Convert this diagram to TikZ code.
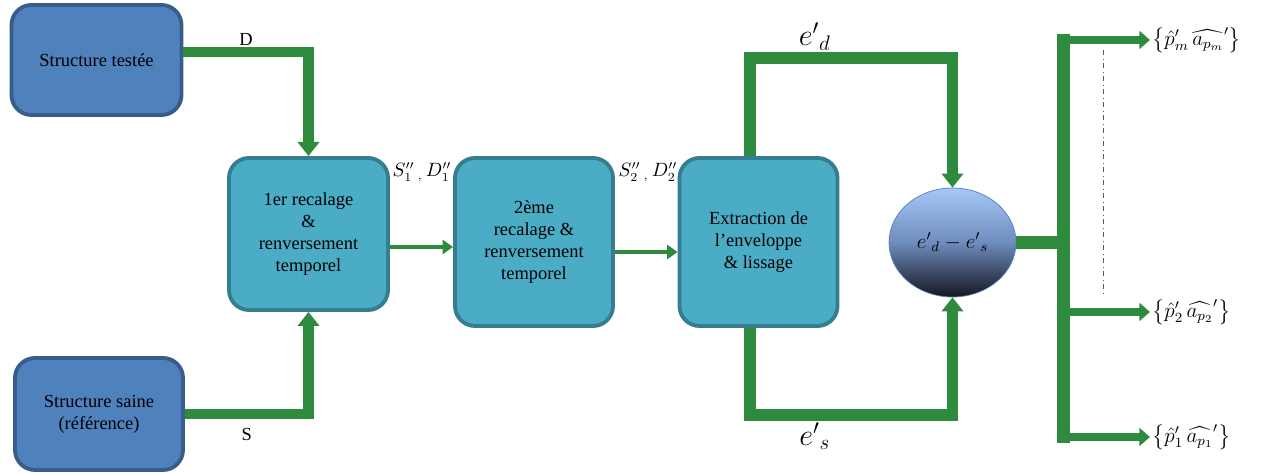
\documentclass[tikz,border=0pt]{standalone}
\usepackage{fontspec}
\setmainfont{Liberation Serif}
\usepackage{amsmath}
\usetikzlibrary{calc,arrows.meta,shapes.geometric}
\definecolor{boxblue}{HTML}{4F81BD}
\definecolor{boxblueline}{HTML}{385D8A}
\definecolor{boxteal}{HTML}{4BACC6}
\definecolor{boxtealline}{HTML}{357D91}
\definecolor{flowgreen}{HTML}{2E8B3E}
\definecolor{ovaltop}{HTML}{A5C8F8}
\definecolor{ovalmid}{HTML}{6E8CBE}
\definecolor{ovalbot}{HTML}{15151F}

\begin{document}
\begin{tikzpicture}[font=\fontsize{10.5}{12.5}\selectfont,
struct/.style={rectangle, rounded corners=4mm, draw=boxblueline, line width=2.2pt, fill=boxblue, minimum width=34mm, minimum height=22mm, align=center},
recal/.style={rectangle, rounded corners=4mm, draw=boxtealline, line width=2.2pt, fill=boxteal, minimum width=31.6mm, minimum height=33.6mm, align=center},
oval/.style={ellipse, draw=boxblue, thin, top color=ovaltop, bottom color=ovalbot, middle color=ovalmid, minimum width=25.4mm, minimum height=21.8mm},
flow/.style={draw=flowgreen, line width=5.7pt, -{Triangle[width=12pt,length=8pt]}},
link/.style={draw=flowgreen, line width=2.8pt, -{Triangle[width=8pt,length=6pt]}},
trunk/.style={draw=flowgreen, line width=7pt},
branch/.style={draw=flowgreen, line width=4.5pt, -{Triangle[width=10pt,length=6pt]}},
outlabel/.style={anchor=west, font=\large, inner sep=1pt}]
 \useasboundingbox (0,0) rectangle (25.22,9.48);
 \node[struct] (teste) at (1.93,8.28) {Structure testée};
 \node[struct, minimum width=33.6mm, minimum height=22.4mm] (saine) at (1.98,1.2) {Structure saine\\(référence)};
 \node[recal, minimum width=31.8mm, minimum height=30.4mm] (recal1) at (6.17,4.8) {1er recalage\\\&\\renversement\\temporel};
 \node[recal] (recal2) at (10.68,4.64) {2ème\\recalage \&\\renversement\\temporel};
 \node[recal] (extr) at (15.17,4.64) {Extraction de\\l’enveloppe\\\& lissage};
 \node[oval] (diff) at (19.05,4.63) {\large ${e'}_{d}-{e'}_{s}$};
 \node (sd1) at (8.44,6.04) {$S''_1\,{}_{,}\,D''_1$};
 \node (sd2) at (12.96,6.04) {$S''_2\,{}_{,}\,D''_2$};
 \node[outlabel] (pm) at (23.0,8.68) {$\left\{{\hat{p}'}_m\,{\widehat{a_{p_m}}}'\right\}$};
 \node[outlabel] (p2) at (23.0,3.24) {$\left\{{\hat{p}'}_2\,{\widehat{a_{p_2}}}'\right\}$};
 \node[outlabel] (p1) at (23.0,0.74) {$\left\{{\hat{p}'}_1\,{\widehat{a_{p_1}}}'\right\}$};

 \draw[flow] ([yshift=1.6mm]teste.east) -| node[pos=0.25, above, inner sep=1pt] (dlab) {D} (recal1.north);
 \draw[flow] (saine.east) -| node[pos=0.25, below=2pt] (slab) {S} (recal1.south);
 \draw[link] (recal1.east |- 0,4.54) -- (recal2.west |- 0,4.54);
 \draw[link] (recal2.east |- 0,4.44) -- (extr.west |- 0,4.44);
 \draw[flow, line width=6.8pt] ([xshift=-1.7mm]extr.north) -- ++(0,1.96) -| node[pos=0.16, above, inner sep=1pt] (edlab) {\LARGE ${e'}_{d}$} (diff.north);
 \draw[flow, line width=6.8pt] ([xshift=-1.7mm]extr.south) -- ++(0,-1.74) -| node[pos=0.16, below, inner sep=1pt] (eslab) {\LARGE ${e'}_{s}$} (diff.south);
 \draw[trunk] (diff.east) -- ++(0.94,0) coordinate (split);
 \draw[trunk, line cap=rect] (split |- pm) -- (split |- p1);
 \draw[branch] (split |- pm) -- (pm.west);
 \draw[branch] (split |- p2) -- (p2.west);
 \draw[branch] (split |- p1) -- (p1.west);
 \draw[dash dot, gray!70!black] (22.06,8.48) -- (22.06,3.54);
\end{tikzpicture}
\end{document}
